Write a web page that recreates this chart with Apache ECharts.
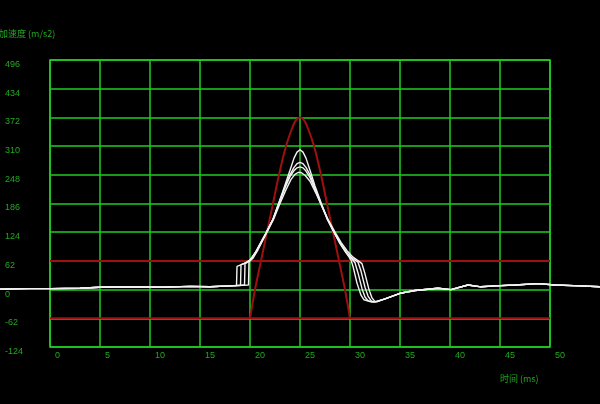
<!DOCTYPE html>
<html>
<head>
<meta charset="utf-8">
<script src="https://cdn.jsdelivr.net/npm/echarts@6/dist/echarts.min.js"></script>
<style>
html,body{margin:0;padding:0;background:#000;}
#c{width:600px;height:404px;}
</style>
</head>
<body>
<div id="c"></div>
<script>
// ---- data ----
const xTicks = [0, 5, 10, 15, 20, 25, 30, 35, 40, 45, 50];
const yTicks = [-124, -62, 0, 62, 124, 186, 248, 310, 372, 434, 496];
const yTitle = '加速度 (m/s2)';
const xTitle = '时间 (ms)';

const corridorUpper = [[0, 62], [50, 62]];
const corridorLower = [[0, -62], [50, -62]];
const redPulse = [[20, -62], [20.5, 0], [21.1, 62], [21.7, 124], [22.3, 186], [22.9, 248], [23.6, 310], [24.2, 348], [24.6, 366], [25, 372], [25.4, 366], [25.8, 348], [26.4, 310], [27.1, 248], [27.7, 186], [28.3, 124], [28.9, 62], [29.5, 0], [30, -62]];

const baseline = [[-5, 1], [-2, 2], [0, 2], [3, 3], [5, 5], [8, 6], [11, 5], [14, 7], [16, 6], [18, 8]];
const tail = [[32.7, -26], [33.5, -20], [35, -8], [36.5, -2], [38.8, 3], [40.1, 0], [41.8, 10], [43.1, 6], [44.5, 8], [46.5, 10], [48.8, 13], [50.5, 10], [53, 8], [55, 6]];

const curve1 = [[18.65, 9], [18.7, 50], [19.4, 56], [20.0, 64], [20.6, 82], [21.6, 122], [22.3, 152], [22.9, 188], [23.5, 226], [24.0, 258], [24.4, 284], [24.7, 297], [25.0, 302], [25.3, 297], [25.6, 284], [26.0, 258], [26.5, 224], [27.1, 188], [27.7, 154], [28.4, 124], [29.0, 100], [29.6, 80], [30.1, 64], [30.3, 50], [30.7, 14], [31.1, -12], [31.4, -22], [32.0, -26]];
const curve2 = [[19.05, 9], [19.1, 54], [19.6, 58], [20.1, 66], [20.6, 82], [21.6, 122], [22.3, 152], [22.9, 188], [23.5, 222], [24.0, 248], [24.4, 264], [24.7, 272], [25.0, 275], [25.3, 272], [25.6, 264], [26.0, 248], [26.5, 220], [27.1, 186], [27.7, 154], [28.4, 124], [29.0, 100], [29.6, 80], [30.2, 66], [30.5, 58], [30.8, 36], [31.2, 2], [31.5, -16], [31.8, -24], [32.2, -27]];
const curve3 = [[19.45, 10], [19.5, 56], [20.0, 62], [20.6, 82], [21.6, 122], [22.3, 152], [22.9, 186], [23.5, 220], [24.0, 244], [24.4, 257], [24.7, 263], [25.0, 265], [25.3, 263], [25.6, 256], [26.0, 242], [26.5, 216], [27.1, 184], [27.7, 154], [28.4, 124], [29.0, 102], [29.6, 82], [30.2, 68], [30.8, 59], [31.1, 40], [31.5, 5], [31.8, -14], [32.1, -24], [32.4, -27]];
const curve4 = [[19.85, 10], [19.9, 60], [20.3, 68], [20.8, 86], [21.7, 124], [22.4, 154], [23.0, 186], [23.6, 216], [24.1, 238], [24.5, 249], [24.8, 253], [25.1, 253], [25.5, 247], [26.0, 234], [26.6, 208], [27.2, 180], [27.8, 152], [28.5, 124], [29.1, 102], [29.7, 84], [30.3, 70], [30.9, 61], [31.2, 56], [31.5, 34], [31.9, 0], [32.2, -18], [32.5, -26]];

// ---- chart ----
const GRID = '#22cc22';
const LABEL = '#22a822';
const RED = '#a01010';
const WHITE = '#f2f2f2';
const chart = echarts.init(document.getElementById('c'), null, {renderer: 'canvas'});

function whiteSeries(mid) {
  return {
    type: 'line', xAxisIndex: 1, yAxisIndex: 1, data: baseline.concat(mid, tail), showSymbol: false, clip: false,
    lineStyle: {color: WHITE, width: 1.4}, animation: false, z: 5
  };
}
function redSeries(d, smooth) {
  return {
    type: 'line', data: d, showSymbol: false, clip: false, smooth: smooth || false,
    lineStyle: {color: RED, width: 2}, animation: false, z: 3
  };
}

chart.setOption({
  backgroundColor: '#000',
  animation: false,
  grid: [
    {left: 50, right: 50, top: 60, bottom: 57, show: true, borderColor: GRID, borderWidth: 1.5, backgroundColor: 'transparent'},
    {left: 0, right: 0, top: 60, bottom: 57, show: false}
  ],
  xAxis: [{
    type: 'value', gridIndex: 0, min: xTicks[0], max: xTicks[xTicks.length - 1], interval: 5,
    axisLine: {show: false}, axisTick: {show: false},
    splitLine: {show: true, lineStyle: {color: GRID, width: 1.5}},
    axisLabel: {color: LABEL, fontSize: 9, fontFamily: 'Liberation Sans', align: 'left', margin: 4, padding: [0, 0, 0, 5], showMinLabel: true, showMaxLabel: true}
  }, {
    type: 'value', gridIndex: 1, min: -5, max: 55, show: false
  }],
  yAxis: [{
    type: 'value', gridIndex: 0, min: yTicks[0], max: yTicks[yTicks.length - 1], interval: 62,
    axisLine: {show: false}, axisTick: {show: false},
    splitLine: {show: true, lineStyle: {color: GRID, width: 1.5}},
    axisLabel: {color: LABEL, fontSize: 9, fontFamily: 'Liberation Sans', align: 'left', verticalAlign: 'top', margin: 45, showMinLabel: true, showMaxLabel: true}
  }, {
    type: 'value', gridIndex: 1, min: yTicks[0], max: yTicks[yTicks.length - 1], show: false
  }],
  graphic: [
    {type: 'text', left: -1, top: 29, style: {text: yTitle, fill: LABEL, font: '9px "Noto Sans CJK SC", sans-serif'}},
    {type: 'text', left: 500, top: 374, style: {text: xTitle, fill: LABEL, font: '9px "Noto Sans CJK SC", sans-serif'}}
  ],
  series: [
    redSeries(corridorUpper),
    redSeries(corridorLower),
    redSeries(redPulse, 0.3),
    whiteSeries(curve1),
    whiteSeries(curve2),
    whiteSeries(curve3),
    whiteSeries(curve4)
  ]
});
</script>
</body>
</html>
